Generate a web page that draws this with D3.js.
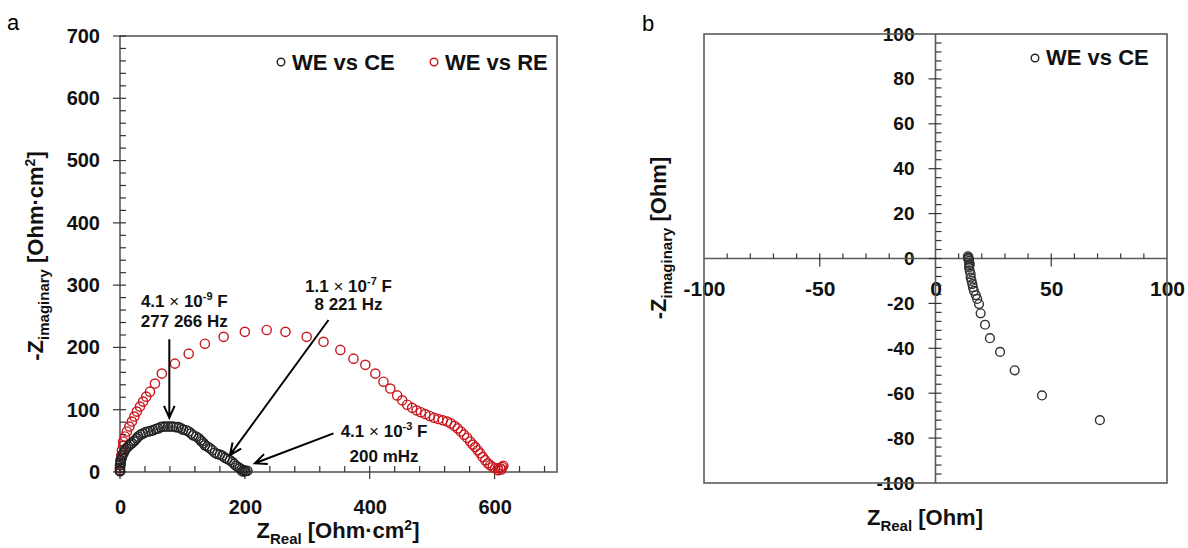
<!DOCTYPE html>
<html>
<head>
<meta charset="utf-8">
<script src="https://cdn.jsdelivr.net/npm/d3@7/dist/d3.min.js"></script>
<style>
body { margin: 0; background: #fff; }
svg { font-family: "Liberation Sans", Arial, sans-serif; }
</style>
</head>
<body>
<svg id="chart" width="1188" height="548"></svg>
<script>
// panel a : [Z_real, -Z_imag] in Ohm·cm2
const weVsCe = [[0,1],[0,3],[0,7],[0,11],[1,15],[1,19],[3,23],[4,27],[6,31],[8,35],[10,38],[13,41],[16,44],[19,46],
  [22,49],[24,51],[27,54],[29,57],[33,60],[37,62],[41,64],[45,65],[49,66],[53,67],[57,69],[61,70],[65,72],[69,73],
  [73,73],[77,73],[81,73],[85,73],[90,72],[94,72],[98,70],[101,68],[106,67],[110,65],[114,62],[117,59],[122,57],
  [126,54],[129,51],[131,49],[134,46],[136,43],[140,41],[144,38],[148,35],[152,31],[156,29],[160,28],[164,26],
  [168,23],[172,21],[176,19],[180,16],[183,13],[186,10],[189,8],[192,6],[195,4],[198,3],[201,2],[204,2],[200,1],[196,1]];

const weVsRe = [[0,2],[0,6],[1,12],[1,19],[2,27],[3,35],[5,42],[5,49],[8,57],[11,65],[15,73],[19,81],[23,89],[27,97],
  [32,105],[37,113],[42,121],[48,129],[56,142],[67,158],[88,174],[110,190],[136,206],[166,217],[200,225],[235,228],
  [265,225],[299,217],[326,209],[353,196],[374,182],[393,172],[409,158],[422,145],[433,134],[444,123],[452,115],
  [460,108],[468,103],[475,99],[482,96],[489,93],[496,90],[503,87],[510,85],[517,83],[524,81],[530,78],[536,74],
  [541,70],[546,65],[551,60],[556,55],[561,49],[565,44],[569,40],[573,35],[577,30],[581,24],[585,19],[589,14],
  [593,11],[597,8],[601,6],[605,6],[609,6],[612,8],[614,10],[611,4],[606,3]];

// panel b : [Z_real, -Z_imag] in Ohm
const weVsCeOhm = [[14,1],[14.3,0.5],[14.2,0],[14.2,-0.3],[14.5,-1],[14.5,-1.8],[14.8,-2.5],[14.6,-3.2],[14.5,-4],
  [14.8,-5.5],[15.2,-7],[15.2,-8.5],[15.6,-10],[15.9,-11.4],[16.2,-12.9],[16.6,-14.4],[17.4,-16.3],[18,-18],
  [18.8,-20.3],[19.5,-24.4],[21.4,-29.5],[23.5,-35.5],[27.9,-41.6],[34.2,-49.8],[46,-61],[71,-72]];

const aTicksX = [0, 200, 400, 600];
const aTicksY = [0, 100, 200, 300, 400, 500, 600, 700];
const bTicksX = [-100, -50, 0, 50, 100];
const bTicksY = [-100, -80, -60, -40, -20, 0, 20, 40, 60, 80, 100];

// annotations of panel a, anchored in data units
const notes = [
  {x: 103, y1: 265, y2: 233, mant: '4.1', exp: '-9', l2: '277 266 Hz', from: [79, 213], to: [79, 87]},
  {x: 366, y1: 289, y2: 260, mant: '1.1', exp: '-7', l2: '8 221 Hz', from: [334, 244], to: [176, 27]},
  {x: 423, y1: 56, y2: 16, mant: '4.1', exp: '-3', l2: '200 mHz', from: [342, 62], to: [216, 14]}
];

const svg = d3.select('#chart');
svg.append('rect').attr('width', 1188).attr('height', 548).attr('fill', '#fff');

const frameColor = '#5a5a5a';
const red = '#c8171e';
const dark = '#222';
const plain = d => String(d);

// ---------- panel a ----------
const ax = d3.scaleLinear().domain([0, 700]).range([120, 557]);
const ay = d3.scaleLinear().domain([0, 700]).range([472, 36]);
const ga = svg.append('g');

ga.append('text').attr('x', 7).attr('y', 30).attr('font-size', 22).text('a');

ga.append('rect')
  .attr('x', ax(0)).attr('y', ay(700))
  .attr('width', ax(700) - ax(0)).attr('height', ay(0) - ay(700))
  .attr('fill', 'none').attr('stroke', frameColor).attr('stroke-width', 1.6);

// minor / major ticks
d3.range(0, 701, 20).forEach(v => {
  const major = v % 100 === 0;
  ga.append('line').attr('x1', ax(0) - (major ? 7 : 0)).attr('x2', ax(0) + 6)
    .attr('y1', ay(v)).attr('y2', ay(v)).attr('stroke', '#333').attr('stroke-width', 1.2);
});
d3.range(0, 700, 40).forEach(v => {
  const major = v % 200 === 0;
  ga.append('line').attr('y1', ay(0) + (major ? 7 : 0)).attr('y2', ay(0) - 6)
    .attr('x1', ax(v)).attr('x2', ax(v)).attr('stroke', '#333').attr('stroke-width', 1.2);
});

const axA = ga.append('g').attr('transform', `translate(0,${ay(0)})`)
  .call(d3.axisBottom(ax).tickValues(aTicksX).tickFormat(plain).tickSize(0).tickPadding(28));
const ayA = ga.append('g').attr('transform', `translate(${ax(0)},0)`)
  .call(d3.axisLeft(ay).tickValues(aTicksY).tickFormat(plain).tickSize(0).tickPadding(20));
[axA, ayA].forEach(g => {
  g.select('.domain').remove();
  g.selectAll('text').attr('font-size', 20).attr('font-weight', 'bold').attr('fill', '#111')
    .attr('font-family', '"Liberation Sans", Arial, sans-serif');
});

function axisTitle(g, x, y, rotate, sub, unit, sup) {
  const t = g.append('text').attr('font-weight', 'bold').attr('font-size', 22).attr('fill', '#111')
    .attr('text-anchor', 'middle')
    .attr('transform', `translate(${x},${y})` + (rotate ? ' rotate(-90)' : ''));
  t.append('tspan').text(rotate ? '-Z' : 'Z');
  t.append('tspan').attr('font-size', 15).attr('dy', 6).text(sub);
  t.append('tspan').attr('dy', -6).text('  ' + unit);
  if (sup) {
    t.append('tspan').attr('font-size', 14).attr('dy', -8).text(sup);
    t.append('tspan').attr('dy', 8).text(']');
  }
  return t;
}
axisTitle(ga, 338, 538, false, 'Real', '[Ohm·cm', '2');
axisTitle(ga, 43, 256, true, 'imaginary', '[Ohm·cm', '2');

// markers
function markers(g, data, sx, sy, color, r) {
  g.append('g').selectAll('circle').data(data).enter().append('circle')
    .attr('cx', d => sx(d[0])).attr('cy', d => sy(d[1])).attr('r', r)
    .attr('fill', 'none').attr('stroke', color).attr('stroke-width', 1.4);
}
markers(ga, weVsRe, ax, ay, red, 4.6);
markers(ga, weVsCe, ax, ay, dark, 4.6);

// annotations
notes.forEach(n => {
  const t = ga.append('text').attr('x', ax(n.x)).attr('y', ay(n.y1)).attr('text-anchor', 'middle')
    .attr('font-size', 17).attr('font-weight', 'bold').attr('fill', '#111');
  t.append('tspan').text(n.mant + ' ');
  t.append('tspan').attr('font-weight', 'normal').text('×');
  t.append('tspan').text(' 10');
  t.append('tspan').attr('font-size', 11).attr('dy', -7).text(n.exp);
  t.append('tspan').attr('dy', 7).text(' F');
  ga.append('text').attr('x', ax(n.x)).attr('y', ay(n.y2)).attr('text-anchor', 'middle')
    .attr('font-size', 17).attr('font-weight', 'bold').attr('fill', '#111').text(n.l2);

  const x1 = ax(n.from[0]), y1 = ay(n.from[1]), x2 = ax(n.to[0]), y2 = ay(n.to[1]);
  const ang = Math.atan2(y1 - y2, x1 - x2);
  const hl = 13, spread = 0.42;
  const h1 = [x2 + hl * Math.cos(ang + spread), y2 + hl * Math.sin(ang + spread)];
  const h2 = [x2 + hl * Math.cos(ang - spread), y2 + hl * Math.sin(ang - spread)];
  ga.append('path')
    .attr('d', `M${x1},${y1}L${x2},${y2}M${h1[0]},${h1[1]}L${x2},${y2}L${h2[0]},${h2[1]}`)
    .attr('fill', 'none').attr('stroke', '#000').attr('stroke-width', 2);
});

// legend a
[[281, 'WE vs CE', dark], [434, 'WE vs RE', red]].forEach(l => {
  ga.append('circle').attr('cx', l[0]).attr('cy', 62).attr('r', 3.8)
    .attr('fill', 'none').attr('stroke', l[2]).attr('stroke-width', 1.4);
  ga.append('text').attr('x', l[0] + 11).attr('y', 70).attr('font-size', 22).attr('font-weight', 'bold')
    .attr('fill', '#111').text(l[1]);
});

// ---------- panel b ----------
const bx = d3.scaleLinear().domain([-100, 100]).range([704, 1167]);
const by = d3.scaleLinear().domain([-100, 100]).range([483, 34]);
const gb = svg.append('g');

gb.append('text').attr('x', 642).attr('y', 31).attr('font-size', 22).text('b');

const bxA = gb.append('g').attr('transform', `translate(0,${by(0)})`)
  .call(d3.axisBottom(bx).tickValues(bTicksX).tickFormat(plain).tickSize(0).tickPadding(23));
const byA = gb.append('g').attr('transform', `translate(${bx(0)},0)`)
  .call(d3.axisLeft(by).tickValues(bTicksY).tickFormat(plain).tickSize(0).tickPadding(21));
[bxA, byA].forEach(g => {
  g.select('.domain').remove();
  g.selectAll('text').attr('font-weight', 'bold').attr('fill', '#111')
    .attr('font-family', '"Liberation Sans", Arial, sans-serif');
});
bxA.selectAll('text').attr('font-size', 21);
byA.selectAll('text').attr('font-size', 19);

gb.append('rect')
  .attr('x', bx(-100)).attr('y', by(100))
  .attr('width', bx(100) - bx(-100)).attr('height', by(-100) - by(100))
  .attr('fill', 'none').attr('stroke', frameColor).attr('stroke-width', 1.6);
gb.append('line').attr('x1', bx(-100)).attr('x2', bx(100)).attr('y1', by(0)).attr('y2', by(0))
  .attr('stroke', frameColor).attr('stroke-width', 1.6);
gb.append('line').attr('x1', bx(0)).attr('x2', bx(0)).attr('y1', by(100)).attr('y2', by(-100))
  .attr('stroke', frameColor).attr('stroke-width', 1.6);

d3.range(-96, 100, 4).forEach(v => {
  const major = v % 20 === 0;
  gb.append('line').attr('x1', bx(0) - (major ? 7 : 0)).attr('x2', bx(0) + 6)
    .attr('y1', by(v)).attr('y2', by(v)).attr('stroke', '#333').attr('stroke-width', 1.2);
});
d3.range(-90, 100, 10).forEach(v => {
  if (v === 0) return;
  const major = v % 50 === 0;
  gb.append('line').attr('y1', by(0) + (major ? 8 : 0)).attr('y2', by(0) - 5)
    .attr('x1', bx(v)).attr('x2', bx(v)).attr('stroke', '#333').attr('stroke-width', 1.2);
});

axisTitle(gb, 925, 525, false, 'Real', '[Ohm]');
axisTitle(gb, 666, 238, true, 'imaginary', '[Ohm]');

markers(gb, weVsCeOhm, bx, by, '#333', 4.4);

gb.append('circle').attr('cx', 1035).attr('cy', 58).attr('r', 3.8)
  .attr('fill', 'none').attr('stroke', dark).attr('stroke-width', 1.4);
gb.append('text').attr('x', 1046).attr('y', 65).attr('font-size', 22).attr('font-weight', 'bold')
  .attr('fill', '#111').text('WE vs CE');
</script>
</body>
</html>
